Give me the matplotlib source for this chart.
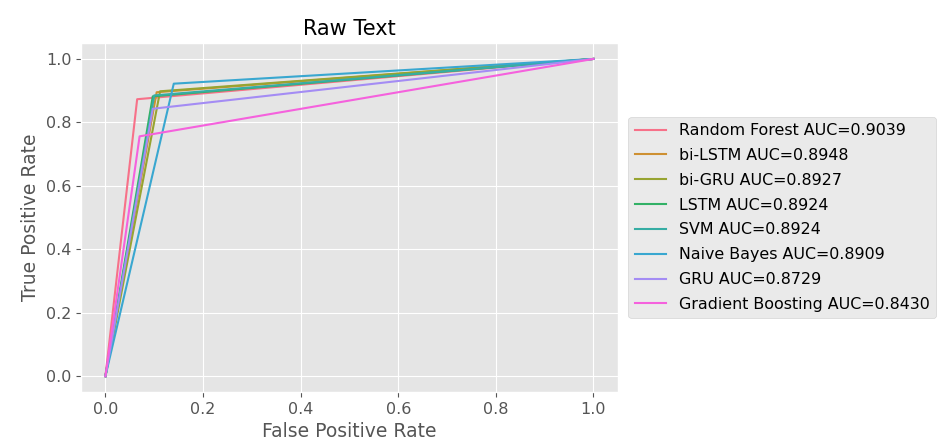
import matplotlib
matplotlib.use("Agg")
import matplotlib.pyplot as plt
import seaborn as sns

plt.style.use('ggplot')

# model names, AUC values and the single operating point of each roc curve
models = ['Random Forest', 'bi-LSTM', 'bi-GRU', 'LSTM', 'SVM',
          'Naive Bayes', 'GRU', 'Gradient Boosting']
aucs = [0.9039, 0.8948, 0.8927, 0.8924, 0.8924, 0.8909, 0.8729, 0.8430]
fpr_mid = [0.065, 0.105, 0.112, 0.097, 0.100, 0.140, 0.097, 0.070]
tpr_mid = [0.873, 0.895, 0.898, 0.882, 0.885, 0.922, 0.843, 0.756]

colors = sns.color_palette('husl', len(models))

fig, ax = plt.subplots(figsize=(9.39, 4.44), dpi=100)
fig.subplots_adjust(left=0.0863, right=0.658, top=0.903, bottom=0.117)

for name, auc, f, t, c in zip(models, aucs, fpr_mid, tpr_mid, colors):
    ax.plot([0, f, 1], [0, t, 1], color=c, lw=1.5,
            label='%s AUC=%.4f' % (name, auc))

ax.set_title('Raw Text', fontsize=15)
ax.set_xlabel('False Positive Rate', fontsize=13.5)
ax.set_ylabel('True Positive Rate', fontsize=13.5)
ax.tick_params(labelsize=11.5)
ax.legend(loc='center left', bbox_to_anchor=(1.005, 0.5), fontsize=11.4,
          labelspacing=0.62)

fig.savefig('out.png')
